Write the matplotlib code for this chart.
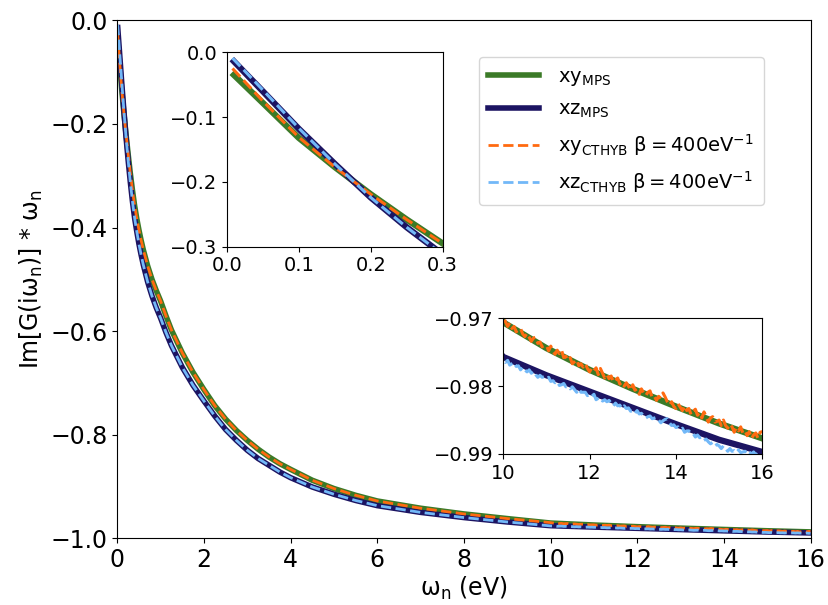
import matplotlib
matplotlib.use('Agg')
import matplotlib.pyplot as plt

# MPS curves, values
w_mps = [0.01, 0.05, 0.1, 0.15, 0.2, 0.25, 0.3, 0.35, 0.4, 0.45, 0.5, 0.55, 0.6, 0.7,
         0.8, 0.9, 1.0, 1.125, 1.25, 1.5, 1.75, 2.0, 2.25, 2.5, 2.75, 3.0, 3.25, 3.5,
         3.75, 4.0, 4.5, 5.0, 5.5, 6.0, 7.0, 8.0, 9.0,
         10.0, 11.0, 12.0, 13.0, 14.0, 15.0, 16.0]
xy_mps = [-0.035, -0.078, -0.132, -0.177, -0.219, -0.258, -0.295, -0.328, -0.358,
          -0.383, -0.405, -0.425, -0.443, -0.474, -0.500, -0.522, -0.542, -0.571,
          -0.598, -0.642, -0.680, -0.713, -0.744, -0.770, -0.792, -0.811, -0.828,
          -0.843, -0.856, -0.867, -0.888, -0.904, -0.917, -0.928, -0.942, -0.953,
          -0.962, -0.9706, -0.9744, -0.9776, -0.9804, -0.9830, -0.9855, -0.9877]
xz_mps = [-0.014, -0.060, -0.118, -0.172, -0.224, -0.270, -0.312, -0.350, -0.382,
          -0.408, -0.432, -0.453, -0.472, -0.505, -0.532, -0.555, -0.575, -0.603,
          -0.628, -0.670, -0.705, -0.735, -0.764, -0.790, -0.811, -0.830, -0.846,
          -0.859, -0.872, -0.883, -0.901, -0.915, -0.927, -0.937, -0.950, -0.960,
          -0.9685, -0.9757, -0.9784, -0.9808, -0.9832, -0.9856, -0.9879, -0.9897]

# CTHYB curves (beta = 400/eV): smooth part below 10 eV
w_ct_low = [0.008, 0.05, 0.1, 0.15, 0.2, 0.25, 0.3, 0.35, 0.4, 0.45, 0.5, 0.55, 0.6,
            0.7, 0.8, 0.9, 1.0, 1.125, 1.25, 1.5, 1.75, 2.0, 2.25, 2.5, 2.75, 3.0,
            3.25, 3.5, 3.75, 4.0, 4.5, 5.0, 5.5, 6.0, 7.0, 8.0, 9.0]
xy_ct_low = [-0.025, -0.075, -0.131, -0.177, -0.219, -0.258, -0.295, -0.328, -0.358,
             -0.383, -0.405, -0.425, -0.443, -0.474, -0.500, -0.522, -0.542, -0.571,
             -0.598, -0.642, -0.680, -0.713, -0.744, -0.770, -0.792, -0.811, -0.828,
             -0.843, -0.856, -0.867, -0.888, -0.904, -0.917, -0.928, -0.942, -0.953,
             -0.962]
xz_ct_low = [-0.009, -0.058, -0.117, -0.172, -0.224, -0.270, -0.312, -0.350, -0.382,
             -0.408, -0.432, -0.453, -0.472, -0.505, -0.532, -0.555, -0.575, -0.603,
             -0.628, -0.670, -0.705, -0.735, -0.764, -0.790, -0.811, -0.830, -0.846,
             -0.859, -0.872, -0.883, -0.901, -0.915, -0.927, -0.937, -0.950, -0.960,
             -0.9685]

# noisy tail, 10 .. 16 eV in steps of 0.05
w_ct_tail = [10 + 0.05 * i for i in range(121)]
xy_ct_tail = [
    -0.9698, -0.9705, -0.9712, -0.9707, -0.9715, -0.9712, -0.9720, -0.9717, -0.9715, -0.9723,
    -0.9727, -0.9722, -0.9728, -0.9734, -0.9729, -0.9728, -0.9737, -0.9735, -0.9742, -0.9740,
    -0.9740, -0.9748, -0.9741, -0.9749, -0.9753, -0.9747, -0.9752, -0.9747, -0.9758, -0.9756,
    -0.9762, -0.9758, -0.9767, -0.9764, -0.9761, -0.9770, -0.9767, -0.9772, -0.9767, -0.9774,
    -0.9779, -0.9773, -0.9777, -0.9773, -0.9783, -0.9774, -0.9781, -0.9788, -0.9783, -0.9789,
    -0.9785, -0.9794, -0.9791, -0.9788, -0.9797, -0.9794, -0.9800, -0.9795, -0.9800, -0.9806,
    -0.9798, -0.9806, -0.9804, -0.9812, -0.9804, -0.9810, -0.9814, -0.9809, -0.9807, -0.9817,
    -0.9815, -0.9821, -0.9815, -0.9818, -0.9810, -0.9816, -0.9823, -0.9828, -0.9823, -0.9830,
    -0.9833, -0.9826, -0.9831, -0.9836, -0.9829, -0.9836, -0.9833, -0.9842, -0.9837, -0.9834,
    -0.9843, -0.9839, -0.9847, -0.9838, -0.9845, -0.9853, -0.9847, -0.9845, -0.9853, -0.9852,
    -0.9850, -0.9858, -0.9850, -0.9858, -0.9862, -0.9856, -0.9860, -0.9868, -0.9861, -0.9866,
    -0.9860, -0.9869, -0.9866, -0.9873, -0.9867, -0.9877, -0.9872, -0.9869, -0.9877, -0.9868,
    -0.9867]
xz_ct_tail = [
    -0.9760, -0.9765, -0.9762, -0.9769, -0.9767, -0.9765, -0.9771, -0.9770, -0.9776, -0.9772,
    -0.9776, -0.9779, -0.9776, -0.9781, -0.9778, -0.9783, -0.9787, -0.9784, -0.9787, -0.9786,
    -0.9789, -0.9787, -0.9793, -0.9792, -0.9795, -0.9793, -0.9799, -0.9798, -0.9796, -0.9801,
    -0.9800, -0.9804, -0.9801, -0.9805, -0.9809, -0.9804, -0.9809, -0.9809, -0.9809, -0.9814,
    -0.9812, -0.9815, -0.9812, -0.9820, -0.9818, -0.9817, -0.9822, -0.9820, -0.9823, -0.9821,
    -0.9825, -0.9829, -0.9825, -0.9829, -0.9828, -0.9833, -0.9829, -0.9833, -0.9832, -0.9837,
    -0.9836, -0.9840, -0.9836, -0.9841, -0.9840, -0.9844, -0.9847, -0.9845, -0.9844, -0.9848,
    -0.9847, -0.9846, -0.9850, -0.9854, -0.9851, -0.9849, -0.9848, -0.9854, -0.9858, -0.9857,
    -0.9861, -0.9860, -0.9864, -0.9862, -0.9868, -0.9866, -0.9866, -0.9870, -0.9870, -0.9875,
    -0.9872, -0.9876, -0.9875, -0.9880, -0.9878, -0.9882, -0.9885, -0.9883, -0.9888, -0.9886,
    -0.9888, -0.9892, -0.9888, -0.9892, -0.9896, -0.9892, -0.9896, -0.9895, -0.9898, -0.9894,
    -0.9898, -0.9897, -0.9896, -0.9900, -0.9897, -0.9900, -0.9897, -0.9901, -0.9899, -0.9904,
    -0.9903]

c_xy = '#3b7a27'
c_xz = '#1c1462'
c_xy_ct = '#ff6a10'
c_xz_ct = '#72b8f8'

labels = ['xy$_\\mathregular{MPS}$', 'xz$_\\mathregular{MPS}$',
          'xy$_\\mathregular{CTHYB}$ β$\\mathregular{=400eV^{-1}}$',
          'xz$_\\mathregular{CTHYB}$ β$\\mathregular{=400eV^{-1}}$']


def draw(ax, lw_mps, lw_ct):
    l1, = ax.plot(w_mps, xy_mps, color=c_xy, lw=lw_mps)
    l2, = ax.plot(w_mps, xz_mps, color=c_xz, lw=lw_mps)
    l3, = ax.plot(w_ct_low + w_ct_tail, xy_ct_low + xy_ct_tail, color=c_xy_ct, lw=lw_ct, ls='--')
    l4, = ax.plot(w_ct_low + w_ct_tail, xz_ct_low + xz_ct_tail, color=c_xz_ct, lw=lw_ct, ls='--')
    return [l1, l2, l3, l4]


fig = plt.figure(figsize=(8.29, 6.05), dpi=100)
ax = fig.add_axes([0.1415, 0.1103, 0.8363, 0.8561])
handles = draw(ax, 4, 2)
ax.set_xlim(0, 16)
ax.set_ylim(-1.0, 0.0)
ax.set_xticks(range(0, 17, 2))
ax.set_yticks([-1.0, -0.8, -0.6, -0.4, -0.2, 0.0])
ax.tick_params(labelsize=17)
ax.set_xlabel('ω$_\\mathregular{n}$ (eV)', fontsize=17, labelpad=2)
ax.set_ylabel('Im[G(iω$_\\mathregular{n}$)] * ω$_\\mathregular{n}$', fontsize=17, labelpad=4)

fig.legend(handles, labels, loc='upper right', bbox_to_anchor=(0.9216, 0.9053),
           borderaxespad=0, fontsize=14, handlelength=2.6, labelspacing=0.6,
           borderpad=0.5, handletextpad=1.0)

# inset: small frequencies
ax1 = fig.add_axes([0.2735, 0.5922, 0.2605, 0.3214])
draw(ax1, 4.5, 2.2)
ax1.set_xlim(0, 0.3)
ax1.set_ylim(-0.3, 0.0)
ax1.set_xticks([0.0, 0.1, 0.2, 0.3])
ax1.set_yticks([-0.3, -0.2, -0.1, 0.0])
ax1.tick_params(labelsize=14)

# inset: high frequency tail
ax2 = fig.add_axes([0.6071, 0.2496, 0.3124, 0.2243])
draw(ax2, 4.5, 2.2)
ax2.set_xlim(10, 16)
ax2.set_ylim(-0.99, -0.97)
ax2.set_xticks([10, 12, 14, 16])
ax2.set_yticks([-0.99, -0.98, -0.97])
ax2.tick_params(labelsize=14)

plt.savefig('out.png', dpi=100)
